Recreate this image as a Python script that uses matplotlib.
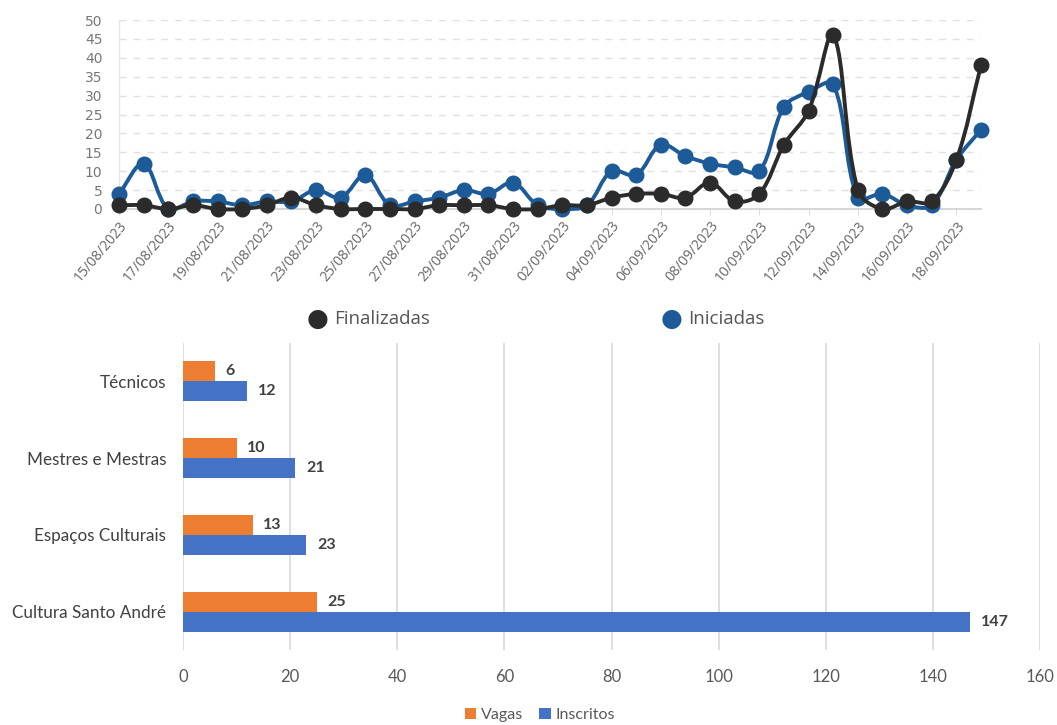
import numpy as np
import matplotlib
matplotlib.use("Agg")
import matplotlib.pyplot as plt
from matplotlib.path import Path
from matplotlib.patches import PathPatch, Patch
import datetime as dt

# ---------------- data ----------------
start = dt.date(2023, 8, 15)
dates = [(start + dt.timedelta(days=i)).strftime("%d/%m/%Y") for i in range(36)]
finalizadas = [1, 1, 0, 1, 0, 0, 1, 3, 1, 0, 0, 0, 0, 1, 1, 1, 0, 0, 1, 1,
               3, 4, 4, 3, 7, 2, 4, 17, 26, 46, 5, 0, 2, 2, 13, 38]
iniciadas = [4, 12, 0, 2, 2, 1, 2, 2, 5, 3, 9, 1, 2, 3, 5, 4, 7, 1, 0, 1,
             10, 9, 17, 14, 12, 11, 10, 27, 31, 33, 3, 4, 1, 1, 13, 21]

categories = ["Técnicos", "Mestres e Mestras", "Espaços Culturais", "Cultura Santo André"]
vagas = [6, 10, 13, 25]
inscritos = [12, 21, 23, 147]

W, H = 1057, 725
fig = plt.figure(figsize=(W / 100, H / 100), dpi=100)

BLUE_L = "#1c5a98"
BLACK_L = "#2b2b2b"
GREY_T = "#666666"


def smooth_path(xs, ys, sx, sy, tension=0.35):
    xs = np.asarray(xs, float)
    ys = np.asarray(ys, float)
    n = len(xs)
    verts = [(xs[0], ys[0])]
    codes = [Path.MOVETO]
    cps_prev = []
    cps_next = []
    for i in range(n):
        p = np.array([xs[i], ys[i]])
        pp = np.array([xs[max(i - 1, 0)], ys[max(i - 1, 0)]])
        pn = np.array([xs[min(i + 1, n - 1)], ys[min(i + 1, n - 1)]])
        d01 = np.hypot((p[0] - pp[0]) * sx, (p[1] - pp[1]) * sy)
        d12 = np.hypot((pn[0] - p[0]) * sx, (pn[1] - p[1]) * sy)
        tot = d01 + d12
        if tot == 0:
            fa = fb = 0
        else:
            fa = tension * d01 / tot
            fb = tension * d12 / tot
        cps_prev.append(p - fa * (pn - pp))
        cps_next.append(p + fb * (pn - pp))
    for i in range(n - 1):
        verts += [tuple(cps_next[i]), tuple(cps_prev[i + 1]), (xs[i + 1], ys[i + 1])]
        codes += [Path.CURVE4] * 3
    return Path(verts, codes)


# ---------------- top line chart ----------------
ax1 = fig.add_axes([119 / W, 1 - 209 / H, (981 - 119) / W, (209 - 20) / H])
x = np.arange(len(dates))
sx = (981 - 119) / 35.0
sy = (209 - 20) / 50.0
for ys, col, z in [(iniciadas, BLUE_L, 3), (finalizadas, BLACK_L, 4)]:
    pth = smooth_path(x, ys, sx, sy)
    ax1.add_patch(PathPatch(pth, facecolor="none", edgecolor=col, lw=2.8, zorder=z,
                            clip_on=False, capstyle="round", joinstyle="round"))
    ax1.plot(x, ys, linestyle="none", marker="o", ms=10.5, color=col, zorder=z + 0.5,
             clip_on=False)

ax1.set_xlim(0, 35)
ax1.set_ylim(0, 50)
ax1.set_yticks(range(0, 51, 5))
ax1.set_xticks(x[::2])
ax1.set_xticklabels(dates[::2], rotation=50, ha="right", rotation_mode="anchor",
                    fontsize=10, color=GREY_T, family="Open Sans")
for lab in ax1.get_yticklabels():
    lab.set_family("DejaVu Sans")
ax1.tick_params(axis="y", length=0, pad=12, labelsize=10, labelcolor="#777777")
ax1.tick_params(axis="x", length=4, color="#dddddd", pad=3)
ax1.grid(axis="y", color="#e0e0e0", linestyle=(0, (5, 5)), lw=1)
ax1.set_axisbelow(True)
for s in ["top", "right"]:
    ax1.spines[s].set_visible(False)
ax1.spines["left"].set_color("#e6e6e6")
ax1.spines["bottom"].set_color("#cfcfcf")
ax1.spines["left"].set_linewidth(1)
ax1.spines["bottom"].set_linewidth(1.2)

# legend for top chart
fig.text(318 / W, 1 - 319 / H, "●", color=BLACK_L, fontsize=18, ha="center", va="center",
         family="DejaVu Sans")
fig.text(334 / W, 1 - 319 / H, "Finalizadas", color="#555555", fontsize=13.5, ha="left",
         va="center", family="Open Sans")
fig.text(672 / W, 1 - 319 / H, "●", color=BLUE_L, fontsize=18, ha="center", va="center",
         family="DejaVu Sans")
fig.text(688 / W, 1 - 319 / H, "Iniciadas", color="#555555", fontsize=13.5, ha="left",
         va="center", family="Open Sans")

# ---------------- bottom bar chart ----------------
ORANGE = "#ED7D31"
BLUE_B = "#4472C4"
ax2 = fig.add_axes([183 / W, 1 - 650 / H, (1040 - 183) / W, (650 - 343) / H])
pos = np.arange(len(categories))
bh = 0.26
b1 = ax2.barh(pos - bh / 2, vagas, height=bh, color=ORANGE, zorder=3)
b2 = ax2.barh(pos + bh / 2, inscritos, height=bh, color=BLUE_B, zorder=3)
for bars, vals in [(b1, vagas), (b2, inscritos)]:
    for r, v in zip(bars, vals):
        ax2.text(r.get_width() + 2.0, r.get_y() + r.get_height() / 2, str(v),
                 va="center", ha="left", fontsize=11.5, fontweight="bold",
                 color="#404040", family="Lato")
ax2.set_ylim(3.5, -0.5)
ax2.set_xlim(0, 160)
ax2.set_xticks(range(0, 161, 20))
ax2.set_yticks(pos)
ax2.set_yticklabels(categories, fontsize=12.3, color="#404040", family="Lato")
for lab in ax2.get_xticklabels():
    lab.set_family("Lato")
ax2.tick_params(axis="x", length=0, pad=14, labelsize=12, labelcolor="#595959")
ax2.tick_params(axis="y", length=0, pad=12)
ax2.grid(axis="x", color="#d9d9d9", lw=1.2, zorder=0)
for s in ["top", "right", "bottom", "left"]:
    ax2.spines[s].set_visible(False)

handles = [Patch(facecolor=ORANGE, label="Vagas"), Patch(facecolor=BLUE_B, label="Inscritos")]
leg = fig.legend(handles=handles, loc="center", bbox_to_anchor=(540 / W, 1 - 715 / H),
                 ncol=2, frameon=False, handlelength=0.7, handleheight=0.7,
                 handletextpad=0.3, columnspacing=1.0,
                 prop={"family": "Lato", "size": 11.5})
for t in leg.get_texts():
    t.set_color("#595959")

fig.savefig("out.png", dpi=100)
